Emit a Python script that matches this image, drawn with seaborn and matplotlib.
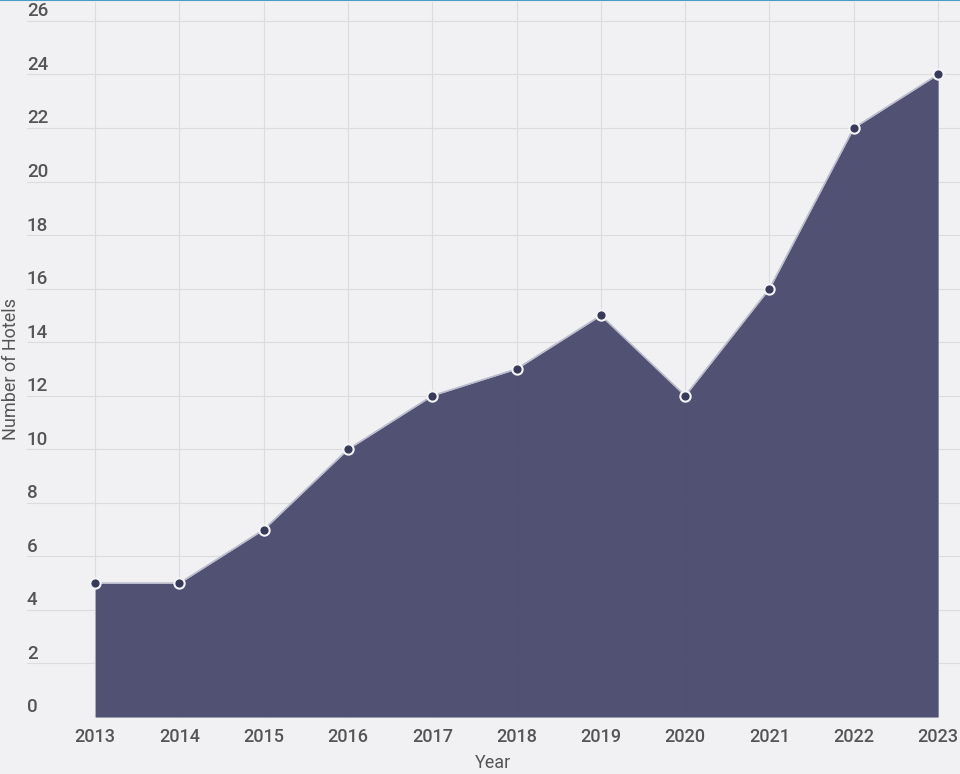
import matplotlib
matplotlib.use("Agg")
import matplotlib.pyplot as plt
import matplotlib.transforms as mtransforms
import seaborn as sns
import pandas as pd

years = [2013, 2014, 2015, 2016, 2017, 2018, 2019, 2020, 2021, 2022, 2023]
hotels = [5, 5, 7, 10, 12, 13, 15, 12, 16, 22, 24]
y_ticks = [0, 2, 4, 6, 8, 10, 12, 14, 16, 18, 20, 22, 24, 26]

BG = '#f1f1f4'
FILL = '#4a4b6e'
TEXT = '#555555'

sns.set_theme(style='white')
plt.rcParams['font.family'] = ['Roboto', 'DejaVu Sans']

df = pd.DataFrame({'Year': years, 'Hotels': hotels})

fig = plt.figure(figsize=(9.6, 7.74), dpi=100, facecolor=BG)
ax = fig.add_axes([0.028, 0.0736, 0.972, 0.9236])
ax.set_facecolor(BG)

# grid
ax.set_yticks(y_ticks)
ax.set_xticks(years)
ax.grid(True, color='#dcdcde', linewidth=0.8, zorder=0)
ax.set_axisbelow(True)

# area + line + points
ax.fill_between(df['Year'], df['Hotels'], 0, color=FILL, alpha=0.96, zorder=2, linewidth=0)
sns.lineplot(data=df, x='Year', y='Hotels', ax=ax, color='#b9bacb', linewidth=1.2, zorder=3)
sns.scatterplot(data=df, x='Year', y='Hotels', ax=ax, color='#383a5a', s=55,
                edgecolor='#f4f4f8', linewidth=1.5, zorder=4)

ax.set_xlim(2012.19, 2023.26)
ax.set_ylim(0, 26.7)

for s in ax.spines.values():
    s.set_visible(False)

# y tick labels sit above their grid lines
ax.tick_params(axis='y', length=0, labelleft=False)
trans = mtransforms.blended_transform_factory(ax.transAxes, ax.transData)
for t in y_ticks:
    ax.text(0.0, t + 0.02, str(t), transform=trans, ha='left', va='bottom',
            fontsize=13.5, fontweight='medium', color=TEXT, clip_on=False)

ax.tick_params(axis='x', length=0, pad=8, labelsize=13, labelcolor=TEXT)
for lab in ax.get_xticklabels():
    lab.set_fontweight('medium')
ax.set_xlabel('Year', fontsize=13, color=TEXT, labelpad=6)
ax.set_ylabel('')
fig.text(0.011, 0.523, 'Number of Hotels', rotation=90, ha='center', va='center',
         fontsize=13, color=TEXT)

# thin accent line at the top
fig.add_artist(plt.Line2D([0, 1], [0.9995, 0.9995], color='#4a9cc0', linewidth=1.5,
                          transform=fig.transFigure))

fig.savefig('out.png', dpi=100, facecolor=BG)
